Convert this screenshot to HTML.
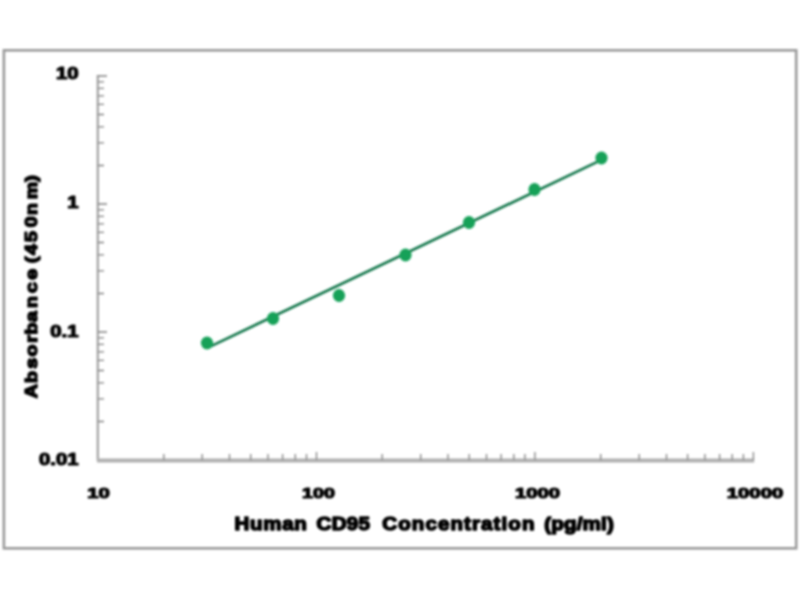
<!DOCTYPE html>
<html><head><meta charset="utf-8"><title>Human CD95 ELISA standard curve</title>
<style>
html,body{margin:0;padding:0;background:#fff;}
body{width:800px;height:600px;overflow:hidden;}
svg{display:block;}
text{font-family:"Liberation Sans",sans-serif;font-weight:bold;fill:#000;stroke:#000;stroke-width:1.5px;stroke-linejoin:round;}
.tk text{stroke-width:1.2px;}
</style></head><body>
<svg width="800" height="600" viewBox="0 0 800 600">
<defs><filter id="bl" x="0" y="0" width="800" height="600" filterUnits="userSpaceOnUse"><feGaussianBlur stdDeviation="0.8"/></filter></defs>
<rect x="0" y="0" width="800" height="600" fill="#fff"/>
<g filter="url(#bl)">
<rect x="3.9" y="50.3" width="792.3" height="498" fill="none" stroke="#999" stroke-width="2.6"/>
<path d="M97.8 75V461" stroke="#a0a0a0" stroke-width="2.2" fill="none"/>
<path d="M97 460.4H754.2" stroke="#b0b0b0" stroke-width="4" fill="none"/>
<path d="M163.8 460v-6 M202.2 460v-6 M229.5 460v-6 M250.7 460v-6 M268.0 460v-6 M282.6 460v-6 M295.3 460v-6 M306.5 460v-6 M316.5 460v-8 M382.2 460v-6 M420.7 460v-6 M448.0 460v-6 M469.2 460v-6 M486.5 460v-6 M501.1 460v-6 M513.8 460v-6 M524.9 460v-6 M534.9 460v-8 M600.7 460v-6 M639.2 460v-6 M666.5 460v-6 M687.6 460v-6 M704.9 460v-6 M719.6 460v-6 M732.2 460v-6 M743.4 460v-6 M753.4 460v-8 M98 421.5h6 M98 398.9h6 M98 382.9h6 M98 370.5h6 M98 360.4h6 M98 351.8h6 M98 344.4h6 M98 337.9h6 M98 332.0h9 M98 293.5h6 M98 270.9h6 M98 254.9h6 M98 242.5h6 M98 232.4h6 M98 223.8h6 M98 216.4h6 M98 209.9h6 M98 204.0h9 M98 165.5h6 M98 142.9h6 M98 126.9h6 M98 114.5h6 M98 104.4h6 M98 95.8h6 M98 88.4h6 M98 81.9h6 M98 76h9" stroke="#808080" stroke-width="1.3" fill="none"/>
<g font-size="19">
<g font-size="16.5" class="tk"><text transform="translate(78.5 78.8) scale(1.23 1)" text-anchor="end">10</text><text transform="translate(78.5 207.8) scale(1.23 1)" text-anchor="end">1</text><text transform="translate(78.5 336.8) scale(1.23 1)" text-anchor="end">0.1</text><text transform="translate(78.5 464.5) scale(1.23 1)" text-anchor="end">0.01</text></g>
<g font-size="15.3" class="tk"><text transform="translate(98.5 498) scale(1.33 1)" text-anchor="middle">10</text><text transform="translate(318.5 498) scale(1.29 1)" text-anchor="middle">100</text><text transform="translate(537.5 498) scale(1.33 1)" text-anchor="middle">1000</text><text transform="translate(755 498) scale(1.33 1)" text-anchor="middle">10000</text></g>
<g font-size="18"><text transform="translate(234.5 530) scale(1.14 1)" letter-spacing="0.61">Human</text><text transform="translate(316.6 530) scale(1.14 1)" letter-spacing="0.26">CD95</text><text transform="translate(382.3 530) scale(1.14 1)" letter-spacing="0.96">Concentration</text><text transform="translate(544.2 530) scale(1.14 1)" letter-spacing="0.18">(pg/ml)</text></g>
<g transform="translate(37 0) rotate(-90)" font-size="16.5"><text transform="scale(1.18 1)" x="-337.6 -324.6 -312.6 -302.2 -290.5 -283.5 -272.8 -261.0 -248.3 -237.0 -230.0 -222.9 -216.2 -205.0 -192.5 -182.2 -168.8 -154.0" y="0">Absorbance (450nm)</text></g>
</g>
<path d="M209 347.1L601.5 159.9" stroke="#14774c" stroke-width="2.7" fill="none" stroke-linecap="butt"/>
<g fill="#12a158"><ellipse cx="207" cy="343" rx="6.1" ry="6.5"/><ellipse cx="273" cy="318.5" rx="6.1" ry="6.5"/><ellipse cx="339" cy="295.5" rx="6.1" ry="6.5"/><ellipse cx="405.5" cy="255" rx="6.1" ry="6.5"/><ellipse cx="469" cy="222.5" rx="6.1" ry="6.5"/><ellipse cx="534.5" cy="189.5" rx="6.1" ry="6.5"/><ellipse cx="601.5" cy="158" rx="6.1" ry="6.5"/></g>
</g>
</svg>
</body></html>
